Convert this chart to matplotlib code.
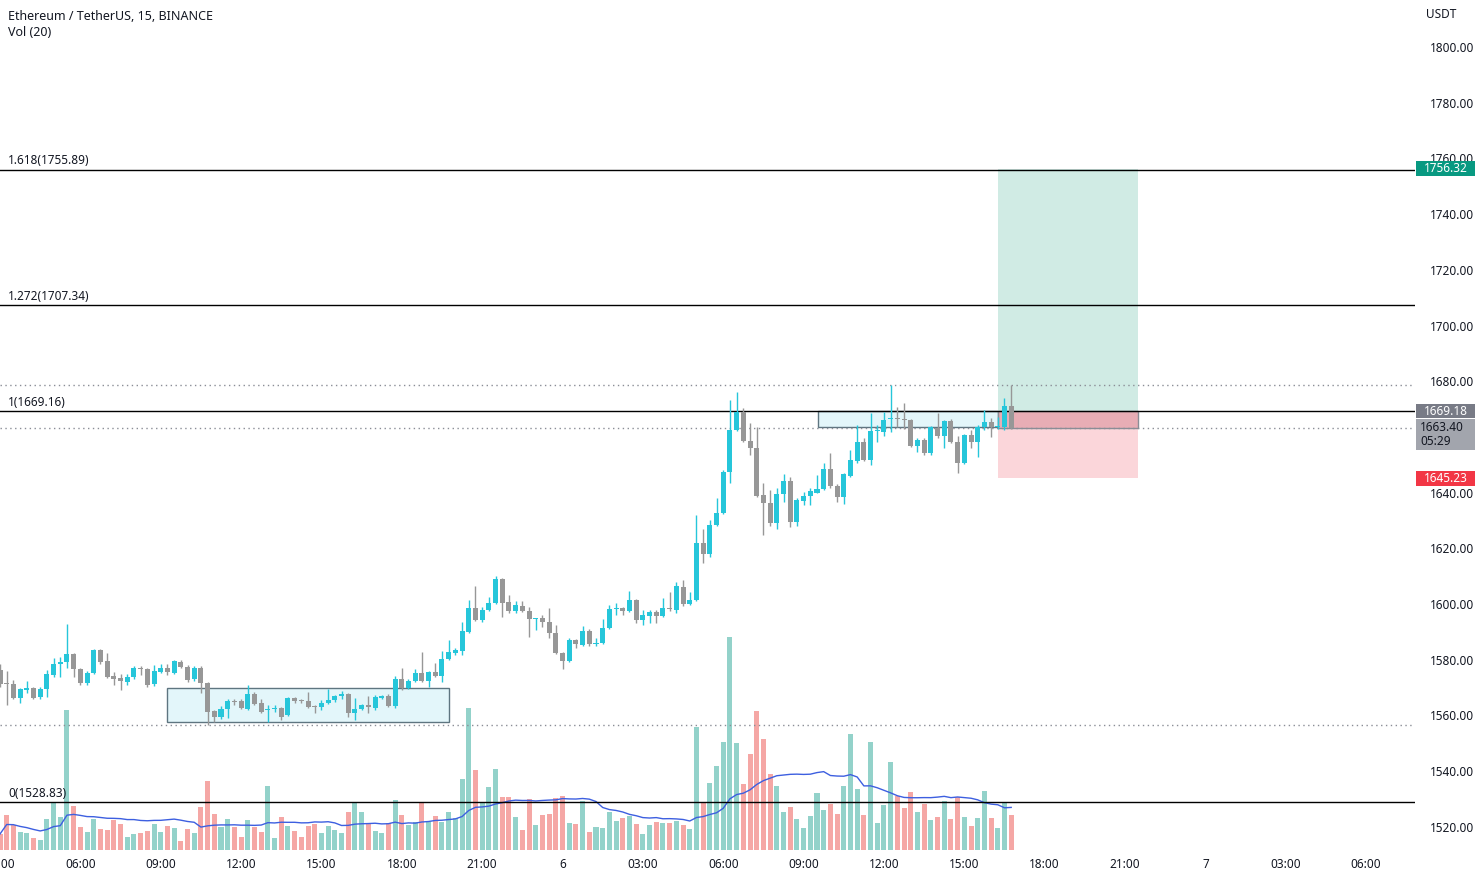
import numpy as np
import pandas as pd
import matplotlib
matplotlib.use("Agg")
import matplotlib.pyplot as plt
from matplotlib.patches import Rectangle
from matplotlib.transforms import blended_transform_factory

plt.rcParams['font.family'] = ['Noto Sans', 'DejaVu Sans']

# ETHUSDT 15m candles, 03:00 day 5 -> 16:45 day 6
opens = [1576.4, 1571.5, 1571.3, 1566.3, 1569.2, 1569.9, 1566.7, 1569.5, 1574.6, 1578.5,
         1579.2, 1582.1, 1576.7, 1571.7, 1575.3, 1583.6, 1579.6, 1574.2, 1573.5, 1572.1,
         1573.9, 1577.1, 1576.7, 1571.3, 1575.6, 1577.1, 1575.3, 1579.2, 1577.4, 1573.1,
         1577.1, 1571.7, 1561.7, 1559.5, 1562.4, 1565.3, 1565.2, 1562.4, 1567.8, 1564.5,
         1562.0, 1562.4, 1562.7, 1560.2, 1566.3, 1565.4, 1565.2, 1563.3, 1563.1, 1564.5,
         1565.6, 1567.0, 1567.8, 1560.9, 1562.4, 1563.8, 1562.7, 1566.3, 1567.0, 1563.4,
         1573.1, 1569.9, 1572.4, 1575.3, 1572.4, 1575.6, 1574.2, 1580.3, 1582.5, 1583.2,
         1590.0, 1598.6, 1594.3, 1597.9, 1600.4, 1609.0, 1600.8, 1597.5, 1599.3, 1597.5,
         1594.5, 1595.0, 1593.6, 1589.7, 1582.5, 1579.6, 1587.1, 1585.4, 1590.4, 1585.7,
         1586.1, 1591.5, 1598.3, 1598.6, 1597.5, 1601.5, 1594.3, 1595.8, 1597.2, 1595.8,
         1598.6, 1597.9, 1606.2, 1600.1, 1601.5, 1622.0, 1618.0, 1628.4, 1632.7, 1647.5,
         1662.5, 1669.0, 1658.6, 1656.1, 1639.2, 1636.3, 1629.1, 1639.6, 1644.2, 1629.5,
         1637.0, 1638.8, 1640.0, 1641.3, 1648.5, 1642.4, 1638.5, 1646.0, 1651.4, 1658.2,
         1651.8, 1662.0, 1661.8, 1666.6, 1666.6, 1666.3, 1666.1, 1656.8, 1658.9, 1654.3,
         1663.3, 1660.4, 1665.8, 1658.2, 1650.7, 1660.8, 1658.2, 1663.6, 1665.4, 1663.5,
         1663.6, 1671.2]
highs = [1578.5, 1576.0, 1572.8, 1570.0, 1572.4, 1570.3, 1570.3, 1576.4, 1580.7, 1581.0,
         1592.9, 1582.5, 1577.0, 1576.0, 1583.9, 1583.9, 1582.5, 1575.6, 1574.9, 1574.9,
         1577.8, 1577.8, 1577.1, 1578.2, 1578.5, 1578.5, 1580.0, 1579.9, 1578.2, 1577.8,
         1577.8, 1572.1, 1562.0, 1563.4, 1565.9, 1565.9, 1565.9, 1571.0, 1568.5, 1565.9,
         1563.8, 1563.8, 1563.1, 1566.7, 1566.7, 1565.9, 1568.5, 1563.8, 1565.6, 1569.5,
         1567.4, 1568.8, 1568.1, 1566.3, 1564.2, 1567.0, 1567.4, 1567.4, 1567.8, 1574.2,
         1577.1, 1573.1, 1576.7, 1582.8, 1576.0, 1578.9, 1583.2, 1587.1, 1584.3, 1593.6,
         1601.5, 1606.5, 1599.0, 1602.6, 1610.1, 1609.4, 1603.3, 1601.1, 1601.1, 1599.0,
         1595.0, 1596.1, 1598.6, 1592.5, 1582.8, 1587.9, 1587.5, 1592.2, 1591.1, 1587.9,
         1594.7, 1599.7, 1600.4, 1599.0, 1604.7, 1601.8, 1597.9, 1597.9, 1597.9, 1602.2,
         1604.4, 1608.0, 1608.7, 1604.4, 1632.0, 1627.0, 1630.2, 1638.1, 1648.0, 1673.3,
         1676.2, 1670.4, 1665.0, 1663.6, 1643.5, 1641.0, 1641.7, 1646.7, 1645.6, 1638.1,
         1640.3, 1641.7, 1646.4, 1650.7, 1654.3, 1643.0, 1647.0, 1655.4, 1664.3, 1659.7,
         1668.6, 1664.3, 1669.0, 1678.7, 1670.8, 1672.2, 1666.5, 1659.7, 1659.7, 1664.0,
         1668.6, 1666.1, 1666.4, 1660.4, 1661.1, 1662.5, 1664.3, 1669.7, 1666.8, 1667.2,
         1674.0, 1678.7]
lows = [1570.3, 1563.8, 1565.9, 1564.5, 1568.1, 1565.9, 1565.9, 1566.7, 1573.9, 1573.9,
        1577.1, 1573.9, 1571.0, 1571.0, 1574.9, 1578.5, 1573.5, 1571.0, 1569.2, 1571.0,
        1573.1, 1574.6, 1570.3, 1570.6, 1575.3, 1574.6, 1574.9, 1577.0, 1572.1, 1572.4,
        1568.1, 1556.6, 1557.7, 1558.8, 1559.1, 1563.8, 1562.4, 1562.0, 1563.8, 1560.9,
        1557.7, 1561.3, 1558.4, 1559.8, 1564.5, 1564.5, 1562.7, 1560.9, 1562.0, 1564.2,
        1564.9, 1566.0, 1559.5, 1558.4, 1562.0, 1560.9, 1562.0, 1565.9, 1563.1, 1562.7,
        1569.2, 1569.5, 1572.1, 1572.1, 1570.3, 1573.9, 1572.1, 1580.0, 1581.8, 1581.8,
        1589.7, 1593.9, 1593.6, 1597.5, 1600.0, 1595.4, 1596.8, 1596.8, 1597.2, 1588.2,
        1590.7, 1591.8, 1587.9, 1582.1, 1576.7, 1579.2, 1584.3, 1584.9, 1585.0, 1585.0,
        1585.7, 1591.1, 1596.1, 1596.1, 1597.2, 1593.2, 1592.5, 1593.2, 1593.2, 1595.4,
        1597.5, 1596.8, 1599.3, 1599.7, 1601.1, 1614.8, 1617.0, 1628.0, 1632.3, 1643.5,
        1662.2, 1658.2, 1653.6, 1638.4, 1624.8, 1628.1, 1627.0, 1636.7, 1627.7, 1628.1,
        1635.6, 1635.6, 1639.9, 1641.0, 1641.7, 1636.5, 1636.0, 1645.5, 1650.7, 1651.4,
        1650.0, 1658.2, 1660.4, 1661.8, 1663.6, 1662.9, 1656.4, 1654.6, 1653.6, 1653.6,
        1659.7, 1656.1, 1657.9, 1647.1, 1650.4, 1656.1, 1652.8, 1662.5, 1660.0, 1663.0,
        1662.5, 1662.8]
closes = [1571.3, 1571.3, 1566.3, 1569.5, 1569.9, 1566.3, 1569.5, 1574.9, 1578.5, 1579.2,
          1582.1, 1576.7, 1571.7, 1575.3, 1583.6, 1579.2, 1573.9, 1573.1, 1572.4, 1573.9,
          1577.1, 1576.7, 1571.0, 1576.0, 1577.1, 1575.6, 1579.6, 1577.4, 1572.8, 1577.1,
          1571.7, 1561.3, 1559.5, 1562.4, 1565.2, 1565.0, 1562.7, 1567.8, 1564.2, 1561.3,
          1562.4, 1562.7, 1559.5, 1566.3, 1565.2, 1565.2, 1563.1, 1563.1, 1564.5, 1565.6,
          1567.0, 1567.8, 1560.9, 1562.4, 1563.8, 1563.1, 1566.7, 1567.0, 1563.4, 1573.1,
          1569.9, 1572.4, 1575.3, 1572.4, 1575.6, 1574.2, 1580.3, 1582.8, 1583.6, 1590.4,
          1598.6, 1594.3, 1597.9, 1600.4, 1609.0, 1600.4, 1597.5, 1599.7, 1597.5, 1594.7,
          1594.8, 1593.6, 1589.7, 1582.5, 1579.6, 1587.1, 1585.7, 1590.4, 1585.7, 1586.1,
          1591.5, 1598.3, 1598.6, 1597.5, 1601.5, 1594.3, 1596.1, 1597.2, 1595.8, 1598.6,
          1598.3, 1606.5, 1600.1, 1601.5, 1622.0, 1618.0, 1628.4, 1632.7, 1647.5, 1662.5,
          1669.0, 1658.6, 1656.1, 1638.8, 1636.3, 1629.1, 1639.6, 1644.2, 1629.5, 1637.4,
          1638.8, 1640.6, 1641.3, 1648.5, 1642.4, 1638.5, 1646.6, 1651.8, 1658.2, 1651.8,
          1662.2, 1662.3, 1666.1, 1666.8, 1666.4, 1666.0, 1656.8, 1658.9, 1654.3, 1663.6,
          1660.4, 1665.8, 1658.2, 1650.7, 1660.8, 1658.2, 1663.6, 1665.4, 1663.6, 1663.8,
          1671.2, 1663.4]
volumes = [800, 1750, 1250, 920, 870, 580, 500, 1530, 2330, 1630,
           7000, 2200, 1130, 900, 1570, 1030, 1000, 1500, 1300, 630,
           800, 870, 950, 1300, 920, 1200, 1100, 470, 1030, 830,
           2170, 3450, 1800, 1170, 1530, 1170, 630, 1500, 1130, 920,
           3200, 580, 1670, 1200, 950, 630, 1200, 1300, 870, 1200,
           1000, 870, 1920, 2370, 1920, 1370, 970, 830, 1330, 2500,
           1750, 1250, 1420, 2370, 1420, 1700, 1420, 1920, 1580, 3550,
           7080, 4000, 2330, 3170, 4050, 2670, 2670, 1670, 1000, 2530,
           1250, 1750, 1800, 2580, 2700, 1370, 1300, 2470, 920, 1170,
           1100, 1920, 1450, 1620, 1700, 1300, 800, 1250, 1420, 1370,
           1370, 1470, 1250, 1050, 6170, 2330, 3370, 4200, 5400, 10670,
           5330, 3300, 4800, 6970, 5550, 3800, 3200, 1900, 2170, 1550,
           1100, 1700, 2850, 2000, 2300, 1800, 3200, 5800, 3030, 1750,
           5400, 1370, 2250, 4400, 2700, 2100, 2900, 1900, 2300, 1500,
           1650, 2450, 1550, 2670, 1650, 1200, 1600, 2950, 1600, 1100,
           2370, 1750]

tick_pos = [0, 12, 24, 36, 48, 60, 72, 84, 96, 108, 120, 132, 144, 156, 168, 180, 192, 204]
tick_labels = ['03:00', '06:00', '09:00', '12:00', '15:00', '18:00', '21:00', '6',
               '03:00', '06:00', '09:00', '12:00', '15:00', '18:00', '21:00', '7',
               '03:00', '06:00']
price_ticks = list(range(1520, 1801, 20))

fib_ratios = ['1.618', '1.272', '1', '0']
fib_prices = [1755.89, 1707.34, 1669.16, 1528.83]

entry, target, stop = 1669.18, 1756.32, 1645.23
countdown = '05:29'

UP, DOWN = '#26c6da', '#979797'
VUP, VDOWN = '#93d2ca', '#f5a7a5'
TXT = '#131722'

fig = plt.figure(figsize=(14.8, 8.77), dpi=100)
ax = fig.add_axes([0, 27 / 877, 1415 / 1480, 850 / 877])
ax2 = ax.twinx()

x = np.arange(len(opens))
o, h, l, c = (np.array(v) for v in (opens, highs, lows, closes))
up = c >= o

# volume + MA(20), bottom overlay
ax2.bar(x, volumes, 0.75, color=np.where(up, VUP, VDOWN), linewidth=0)
ma = pd.Series(volumes).rolling(20, min_periods=1).mean()
ax2.plot(x, ma, color='#3d5fe0', lw=1)
ax2.set_ylim(0, 42500)
ax2.axis('off')
ax.set_zorder(ax2.get_zorder() + 1)
ax.patch.set_visible(False)

# candles
cols = np.where(up, UP, DOWN)
ax.vlines(x, l, h, colors=cols, lw=1, zorder=4)
ax.bar(x, np.maximum(np.abs(c - o), 0.35), 0.75, bottom=np.minimum(o, c),
       color=cols, linewidth=0, zorder=5)

# fib levels
for r, p in zip(fib_ratios, fib_prices):
    ax.axhline(p, color='black', lw=1, zorder=3)
    ax.text(1.25, p + 0.9, f'{r}({p:.2f})', fontsize=8.5, color=TXT, va='bottom')

# high / low / last price dotted lines
for p in (h.max(), l.min(), c[-1]):
    ax.axhline(p, color='#8a8d96', lw=1, ls=(0, (1, 2.5)), zorder=2)

# range boxes
for x0, x1, y0, y1 in [(25.0, 67.1, 1557.7, 1569.9), (122.1, 149.06, 1663.6, 1669.3)]:
    ax.add_patch(Rectangle((x0, y0), x1 - x0, y1 - y0, facecolor='#e3f6fa',
                           edgecolor='#5e7580', lw=1, zorder=1))

# long position tool
px0, px1 = 149.06, 170.0
ax.add_patch(Rectangle((px0, entry), px1 - px0, target - entry, facecolor='#d0ebe4',
                       edgecolor='none', zorder=1))
ax.add_patch(Rectangle((px0, stop), px1 - px0, entry - stop, facecolor='#fbd6da',
                       edgecolor='none', zorder=1))
ax.add_patch(Rectangle((px0, c[-1]), px1 - px0, entry - c[-1], facecolor='#e8adb5',
                       edgecolor='#8a8d96', lw=1, zorder=1.5))

ax.set_xlim(0.06, 211.3)
ax.set_ylim(1511.7, 1816.9)
for s in ax.spines.values():
    s.set_visible(False)
ax.yaxis.tick_right()
ax.set_yticks(price_ticks)
# 1660 sits under the last-price label on the scale, as in the original
ax.set_yticklabels(['' if v == 1660 else f'{v:.2f}' for v in price_ticks])
ax.tick_params(axis='y', length=0, pad=11, labelsize=8.5, labelcolor=TXT)
ax.set_xticks(tick_pos)
ax.set_xticklabels(tick_labels)
ax.tick_params(axis='x', length=0, pad=6, labelsize=8.5, labelcolor=TXT)

# price labels on the scale
tr = blended_transform_factory(fig.transFigure, ax.transData)
bx, bw = 1416 / 1480, 59 / 1480
for p, fc, tc, hgt in [(target, '#089981', 'white', 5.4), (entry, '#787b86', 'white', 5.0),
                       (stop, '#f23645', 'white', 5.4)]:
    ax.add_patch(Rectangle((bx, p - hgt / 2), bw, hgt, transform=tr, facecolor=fc,
                           edgecolor='none', clip_on=False, zorder=6))
    ax.text(bx + bw / 2, p, f'{p:.2f}', transform=tr, ha='center', va='center',
            color=tc, fontsize=8.5, fontweight='bold', clip_on=False, zorder=7)
ax.add_patch(Rectangle((bx, c[-1] - 7.9), bw, 10.8, transform=tr, facecolor='#a2a5ad',
                       edgecolor='none', clip_on=False, zorder=6))
ax.text(bx + 4 / 1480, c[-1], f'{c[-1]:.2f}', transform=tr, ha='left', va='center',
        color=TXT, fontsize=8.5, clip_on=False, zorder=7)
ax.text(bx + 4 / 1480, c[-1] - 5.0, countdown, transform=tr, ha='left', va='center',
        color=TXT, fontsize=8.5, clip_on=False, zorder=7)

fig.text(1426 / 1480, 1 - 14 / 877, 'USDT', fontsize=8.5, color=TXT, va='center')
fig.text(8 / 1480, 1 - 16 / 877, 'Ethereum / TetherUS, 15, BINANCE', fontsize=9,
         fontweight='semibold', color=TXT, va='center')
fig.text(8 / 1480, 1 - 33 / 877, 'Vol (20)', fontsize=9, color=TXT, va='center')

fig.savefig('out.png', dpi=100)
